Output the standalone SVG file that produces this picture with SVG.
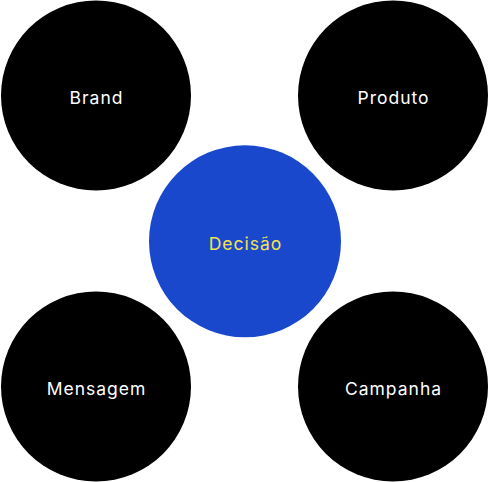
<svg xmlns="http://www.w3.org/2000/svg" width="489" height="482" viewBox="0 0 489 482">
<style>
.dark{fill:#000}
.hub{fill:#1a48cc}
.lbl{font-family:Inter,"Liberation Sans",sans-serif;font-size:17.5px;letter-spacing:1px;text-anchor:middle}
.w{fill:#fff}
.y{fill:#f3e34f}
</style>
<rect width="489" height="482" fill="#fff"/>
<g id="connectors"></g>
<g id="brand"><circle class="dark" cx="96" cy="95.5" r="95"/><text class="lbl w" x="96.5" y="104">Brand</text></g>
<g id="produto"><circle class="dark" cx="393" cy="95.5" r="95"/><text class="lbl w" x="393.5" y="104">Produto</text></g>
<g id="decisao"><circle class="hub" cx="245" cy="241.3" r="96"/><text class="lbl y" x="245.5" y="250">Decisão</text></g>
<g id="mensagem"><circle class="dark" cx="96" cy="386.5" r="95"/><text class="lbl w" x="96.5" y="395">Mensagem</text></g>
<g id="campanha"><circle class="dark" cx="393" cy="386.5" r="95"/><text class="lbl w" x="393.5" y="395">Campanha</text></g>
</svg>
